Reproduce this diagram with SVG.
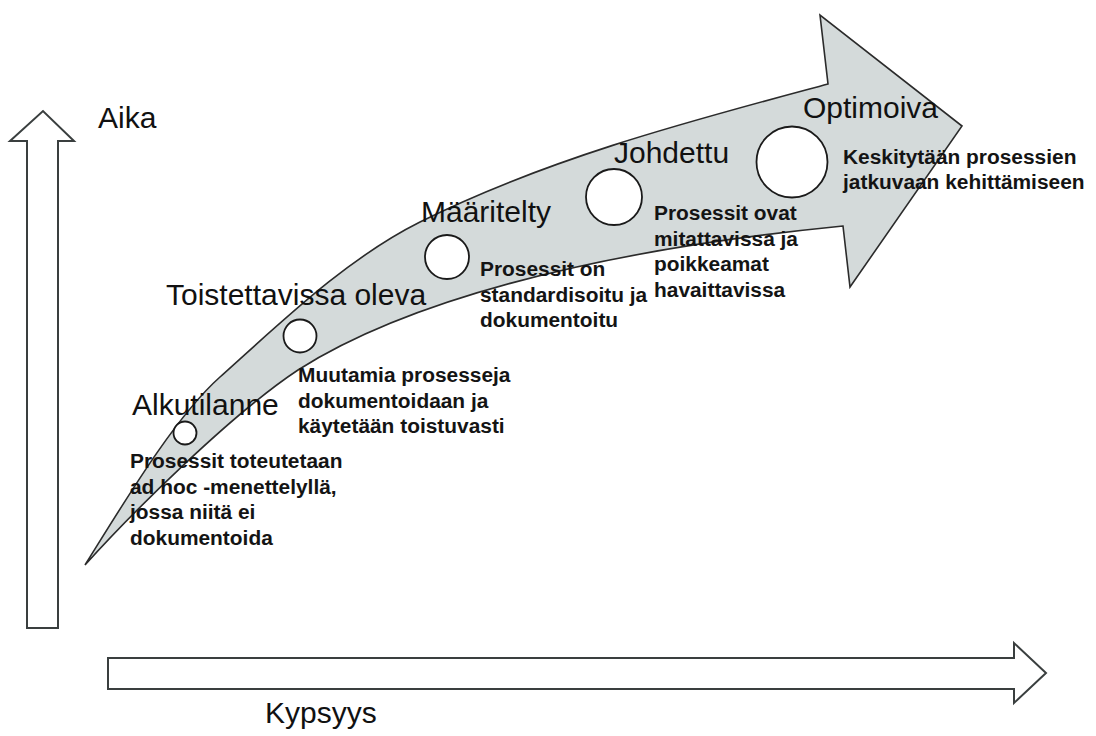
<svg xmlns="http://www.w3.org/2000/svg" width="1096" height="736" viewBox="0 0 1096 736">
  <style>
    .axis { fill: #ffffff; stroke: #3a3f3f; stroke-width: 2; stroke-linejoin: miter; }
    .band { fill: #d4dada; stroke: #2b2b2b; stroke-width: 1.6; stroke-linejoin: miter; }
    .dot { fill: #ffffff; stroke: #1a1a1a; stroke-width: 1.8; }
    .title { font-family: "Liberation Sans", Arial, sans-serif; font-size: 30px; fill: #111111; }
    .desc { font-family: "Liberation Sans", Arial, sans-serif; font-size: 20.9px; font-weight: bold; fill: #141414; }
  </style>

  <rect width="1096" height="736" fill="#ffffff"/>

  <!-- axes -->
  <g id="axis-time">
    <path class="axis" d="M27,628 L27,141 L10,141 L43,111 L74,141 L58,141 L58,628 Z"/>
    <text class="title" x="98" y="128">Aika</text>
  </g>
  <g id="axis-maturity">
    <path class="axis" d="M108,658 L1014,658 L1014,643 L1046,673 L1014,703 L1014,689 L108,689 Z"/>
    <text class="title" x="265" y="723">Kypsyys</text>
  </g>

  <!-- curved progression arrow -->
  <g id="connectors">
    <path class="band" d="M85,565
      C125,501 175,417 220,377
      C290,314 350,257 420,222
      C550,157 698,119 828,84
      L820,15 L962,126 L850,287 L843,226
      C580,252 400,305 298,370
      C230,415 130,515 85,565 Z"/>
  </g>

  <!-- maturity levels -->
  <g id="level-1">
    <circle class="dot" cx="185" cy="433" r="11.5"/>
    <text class="title" x="132" y="415">Alkutilanne</text>
    <text class="desc">
      <tspan x="130" y="468">Prosessit toteutetaan</tspan>
      <tspan x="130" y="494">ad hoc -menettelyllä,</tspan>
      <tspan x="130" y="519">jossa niitä ei</tspan>
      <tspan x="130" y="545">dokumentoida</tspan>
    </text>
  </g>

  <g id="level-2">
    <circle class="dot" cx="300" cy="336" r="16.5"/>
    <text class="title" x="166" y="305">Toistettavissa oleva</text>
    <text class="desc">
      <tspan x="298" y="382">Muutamia prosesseja</tspan>
      <tspan x="298" y="408">dokumentoidaan ja</tspan>
      <tspan x="298" y="433">käytetään toistuvasti</tspan>
    </text>
  </g>

  <g id="level-3">
    <circle class="dot" cx="447" cy="257" r="22"/>
    <text class="title" x="421" y="222">Määritelty</text>
    <text class="desc">
      <tspan x="480" y="276">Prosessit on</tspan>
      <tspan x="480" y="302">standardisoitu ja</tspan>
      <tspan x="480" y="327">dokumentoitu</tspan>
    </text>
  </g>

  <g id="level-4">
    <circle class="dot" cx="614" cy="197" r="28"/>
    <text class="title" x="614" y="163">Johdettu</text>
    <text class="desc">
      <tspan x="654" y="220">Prosessit ovat</tspan>
      <tspan x="654" y="246">mitattavissa ja</tspan>
      <tspan x="654" y="271">poikkeamat</tspan>
      <tspan x="654" y="297">havaittavissa</tspan>
    </text>
  </g>

  <g id="level-5">
    <circle class="dot" cx="792" cy="162" r="35.5"/>
    <text class="title" x="803" y="118">Optimoiva</text>
    <text class="desc">
      <tspan x="843" y="164">Keskitytään prosessien</tspan>
      <tspan x="843" y="189">jatkuvaan kehittämiseen</tspan>
    </text>
  </g>
</svg>
